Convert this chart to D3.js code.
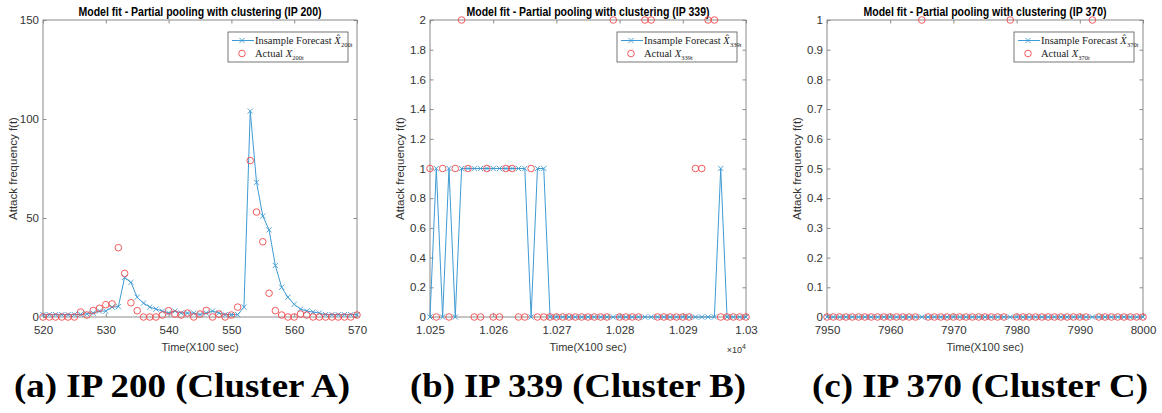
<!DOCTYPE html>
<html>
<head>
<meta charset="utf-8">
<script src="https://cdn.jsdelivr.net/npm/d3@7"></script>
<style>
  body { margin: 0; background: #fff; }
  svg { display: block; }
</style>
</head>
<body>
<svg id="fig" width="1162" height="413"></svg>
<script>
// values (one point per 100 sec step)
const timeA = d3.range(520, 571)
const forecastA = [1.2, 1.2, 1.2, 1.2, 1.2, 1.2, 1.3, 1.6, 2, 3, 3, 5, 5.2, 20, 17.5, 10, 7, 5, 4, 3,
  2, 3, 2, 2, 2, 1.2, 2, 3, 2, 1.2, 1.2, 1.2, 5, 104, 68, 51, 44, 26, 15, 10,
  6.4, 4, 3, 2.5, 2, 1.2, 1.2, 1.2, 1.2, 1.2, 1.2]
const actualA = [0, 0, 0, 0, 0, 0, 2.5, 1, 3.3, 4.4, 6.2, 6.6, 35, 22, 7.2, 3.2, 0, 0, 0, 1,
  3.2, 1.5, 1, 2, 0, 1.5, 3.3, 0, 1.5, 0, 1, 5, null, 79, 53, 38, 12, 3.2, 1, 0,
  0, 1.5, 1, 0, 0, 0, 0, 0, 0, 0, 1]

const timeB = d3.range(10250, 10301)
const forecastB = [0, 1, 0, 1, 0, 1, 1, 1, 1, 1, 1, 1, 1, 1, 1, 1, 0, 1, 1, 0,
  0, 0, 0, 0, 0, 0, 0, 0, 0, 0, 0, 0, 0, 0, 0, 0, 0, 0, 0, 0,
  0, 0, 0, 0, 0, 0, 1, 0, 0, 0, 0]
const actualB = [1, 0, 1, 0, 1, 2, 1, 0, 0, 1, 0, 0, 1, 1, 0, 0, 1, 0, 0, 0,
  0, 0, 0, 0, 0, 0, 0, 0, 0, 2, 0, 0, 0, 0, 2, 2, 0, 0, 0, 0,
  0, 0, 1, 1, 2, 2, 0, 0, 0, 0, 0]

const timeC = d3.range(7950, 8001)
const forecastC = [0, 0, 0, 0, 0, 0, 0, 0, 0, 0, 0, 0, 0, 0, 0, 0, 0, 0, 0, 0,
  0, 0, 0, 0, 0, 0, 0, 0, 0, 0, 0, 0, 0, 0, 0, 0, 0, 0, 0, 0,
  0, 0, 0, 0, 0, 0, 0, 0, 0, 0, 0]
const actualC = [0, 0, 0, 0, 0, 0, 0, 0, 0, 0, 0, 0, 0, 0, 0, 1, 0, 0, 0, 0,
  0, 0, 0, 0, 0, 0, 0, 0, 0, 1, 0, 0, 0, 0, 0, 0, 0, 0, 0, 0,
  0, 0, 1, 0, 0, 0, 0, 0, 0, 0, 0]

const xTicksA = [520, 530, 540, 550, 560, 570]
const yTicksA = [0, 50, 100, 150]
const xTicksB = [10250, 10260, 10270, 10280, 10290, 10300]
const yTicksB = [0, 0.2, 0.4, 0.6, 0.8, 1, 1.2, 1.4, 1.6, 1.8, 2]
const xTicksC = [7950, 7960, 7970, 7980, 7990, 8000]
const yTicksC = [0, 0.1, 0.2, 0.3, 0.4, 0.5, 0.6, 0.7, 0.8, 0.9, 1]

const ips = ['200', '339', '370']
const captions = ['(a) IP 200 (Cluster A)', '(b) IP 339 (Cluster B)', '(c) IP 370 (Cluster C)']

const blue = '#3f9bd3'
const red = '#f0484c'
const axisGray = '#8a8a8a'
const textGray = '#333'
const plotTop = 20, plotBottom = 317
const serif = 'Liberation Serif, Times New Roman, serif'

const svg = d3.select('#fig')

// legend entry: main text, then a small subscript placed right after it
function legendText(lg, y, main, sub) {
  const t = lg.append('text').attr('x', 27).attr('y', y)
    .style('font-family', serif).style('font-size', '10.5px').attr('fill', '#222')
  t.append('tspan').text(main)
  t.append('tspan').style('font-style', 'italic').text(sub.hat ? 'X\u0302' : 'X')
  const w = t.node().getComputedTextLength()
  lg.append('text').attr('x', 27 + w + 0.3).attr('y', y + 2.5)
    .style('font-family', serif).style('font-size', '6.5px').attr('fill', '#222')
    .text(sub.ip + 't')
}

function panel(o) {
  const x = d3.scaleLinear().domain(o.xDomain).range([o.x0, o.x1])
  const y = d3.scaleLinear().domain(o.yDomain).range([plotBottom, plotTop])
  const g = svg.append('g')

  // axes, ticks pointing inwards like matlab
  const bx = g.append('g').attr('transform', `translate(0,${plotBottom})`)
    .call(d3.axisBottom(x).tickValues(o.xTicks).tickFormat(o.xFmt).tickSizeInner(-3.5).tickSizeOuter(0).tickPadding(9))
  const tx = g.append('g').attr('transform', `translate(0,${plotTop})`)
    .call(d3.axisTop(x).tickValues(o.xTicks).tickFormat('').tickSizeInner(-3.5).tickSizeOuter(0))
  const ly = g.append('g').attr('transform', `translate(${o.x0},0)`)
    .call(d3.axisLeft(y).tickValues(o.yTicks).tickFormat(d3.format('~g')).tickSizeInner(-3.5).tickSizeOuter(0).tickPadding(4))
  const ry = g.append('g').attr('transform', `translate(${o.x1},0)`)
    .call(d3.axisRight(y).tickValues(o.yTicks).tickFormat('').tickSizeInner(-3.5).tickSizeOuter(0))
  ;[bx, tx, ly, ry].forEach(a => {
    a.select('.domain').remove()
    a.selectAll('line').attr('stroke', axisGray)
    a.selectAll('text').attr('fill', textGray).style('font-family', 'Liberation Sans, Arial, sans-serif').style('font-size', '11.5px')
  })
  g.append('rect')
    .attr('x', o.x0).attr('y', plotTop).attr('width', o.x1 - o.x0).attr('height', plotBottom - plotTop)
    .attr('fill', 'none').attr('stroke', axisGray).attr('stroke-width', 1)

  // title + labels
  g.append('text')
    .attr('x', (o.x0 + o.x1) / 2).attr('y', 15.5)
    .attr('text-anchor', 'middle')
    .attr('textLength', 243).attr('lengthAdjust', 'spacingAndGlyphs')
    .style('font-family', 'Liberation Sans, Arial, sans-serif').style('font-weight', 'bold').style('font-size', '12.5px')
    .text('Model fit - Partial pooling with clustering (IP ' + o.ip + ')')
  g.append('text')
    .attr('x', (o.x0 + o.x1) / 2).attr('y', 351)
    .attr('text-anchor', 'middle').attr('fill', textGray)
    .style('font-family', 'Liberation Sans, Arial, sans-serif').style('font-size', '11px')
    .text('Time(X100 sec)')
  g.append('text')
    .attr('transform', `translate(${o.x0 - 26},${(plotTop + plotBottom) / 2}) rotate(-90)`)
    .attr('text-anchor', 'middle').attr('fill', textGray)
    .style('font-family', 'Liberation Sans, Arial, sans-serif').style('font-size', '11.5px')
    .text('Attack frequency f(t)')
  if (o.expo) {
    const e = g.append('text')
      .attr('x', o.x1).attr('y', 353).attr('text-anchor', 'end').attr('fill', textGray)
      .style('font-family', 'Liberation Sans, Arial, sans-serif').style('font-size', '9px')
    e.append('tspan').text('\u00d710')
    e.append('tspan').attr('dy', -4).style('font-size', '7px').text('4')
  }

  // forecast line with x markers
  const pts = o.time.map((t, i) => ({ t: t, f: o.forecast[i], a: o.actual[i] }))
  g.append('path')
    .datum(pts)
    .attr('fill', 'none').attr('stroke', blue).attr('stroke-width', 1)
    .attr('d', d3.line().x(d => x(d.t)).y(d => y(d.f)))
  g.selectAll('.xm').data(pts).join('path')
    .attr('class', 'xm')
    .attr('transform', d => `translate(${x(d.t)},${y(d.f)})`)
    .attr('d', 'M-2.6,-2.6L2.6,2.6M-2.6,2.6L2.6,-2.6')
    .attr('stroke', blue).attr('stroke-width', 0.9)

  // actual values as red circles
  g.selectAll('.om').data(pts.filter(d => d.a != null)).join('circle')
    .attr('class', 'om')
    .attr('cx', d => x(d.t)).attr('cy', d => y(d.a)).attr('r', 3.3)
    .attr('fill', 'none').attr('stroke', red).attr('stroke-width', 0.9)

  // legend
  const lx = o.x1 - 129, ly0 = 32
  const lg = g.append('g').attr('transform', `translate(${lx},${ly0})`)
  lg.append('rect').attr('width', 120).attr('height', 30)
    .attr('fill', '#fff').attr('stroke', '#555').attr('stroke-width', 0.8)
  lg.append('line').attr('x1', 4).attr('x2', 26).attr('y1', 8.5).attr('y2', 8.5).attr('stroke', blue)
  lg.append('path').attr('transform', 'translate(14,8.5)')
    .attr('d', 'M-2.6,-2.6L2.6,2.6M-2.6,2.6L2.6,-2.6').attr('stroke', blue).attr('stroke-width', 0.9)
  lg.append('circle').attr('cx', 14).attr('cy', 21.5).attr('r', 3.3)
    .attr('fill', 'none').attr('stroke', red).attr('stroke-width', 0.9)
  legendText(lg, 12, 'Insample Forecast ', { hat: true, ip: o.ip })
  legendText(lg, 25, 'Actual ', { hat: false, ip: o.ip })

  // caption under the panel
  svg.append('text')
    .attr('x', o.capX).attr('y', 397).attr('text-anchor', 'middle')
    .attr('textLength', 336).attr('lengthAdjust', 'spacingAndGlyphs')
    .style('font-family', 'Liberation Serif, DejaVu Serif, serif').style('font-weight', 'bold').style('font-size', '33px')
    .text(o.caption)
}

panel({ x0: 43, x1: 357, xDomain: [520, 570], yDomain: [0, 150], xTicks: xTicksA, yTicks: yTicksA,
  xFmt: d3.format('d'), time: timeA, forecast: forecastA, actual: actualA, ip: ips[0], caption: captions[0], capX: 182 })
panel({ x0: 430, x1: 746, xDomain: [10250, 10300], yDomain: [0, 2], xTicks: xTicksB, yTicks: yTicksB,
  xFmt: d => d3.format('~g')(d / 10000), time: timeB, forecast: forecastB, actual: actualB, ip: ips[1], caption: captions[1], capX: 578, expo: true })
panel({ x0: 827, x1: 1143, xDomain: [7950, 8000], yDomain: [0, 1], xTicks: xTicksC, yTicks: yTicksC,
  xFmt: d3.format('d'), time: timeC, forecast: forecastC, actual: actualC, ip: ips[2], caption: captions[2], capX: 980 })
</script>
</body>
</html>
